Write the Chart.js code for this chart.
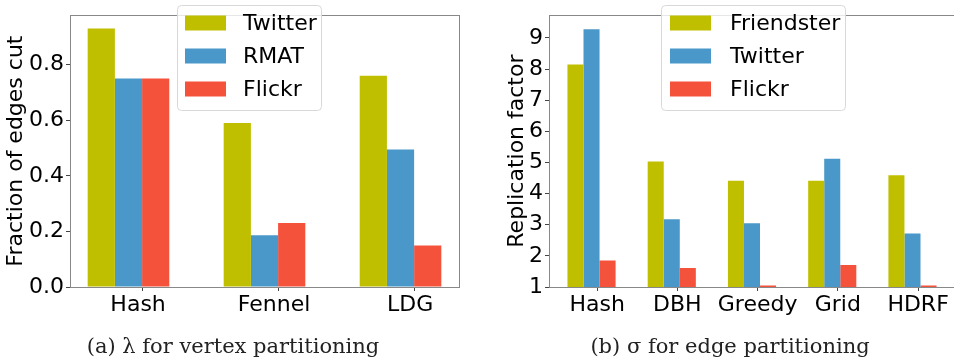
<!DOCTYPE html>
<html>
<head>
<meta charset="utf-8">
<script src="https://cdn.jsdelivr.net/npm/chart.js@4/dist/chart.umd.min.js"></script>
<style>
  body { margin: 0; width: 954px; height: 362px; overflow: hidden; position: relative; background: #fff; }
  .panel { position: absolute; top: 0; width: 480px; height: 362px; }
  .caption { position: absolute; top: 333px; font: 21px "DejaVu Serif", serif; color: #222; white-space: nowrap; line-height: 26px; transform: translateX(-50%); }
</style>
</head>
<body>
<div class="panel" style="left:0"><canvas id="vertex" width="480" height="362"></canvas></div>
<div class="panel" style="left:480px"><canvas id="edge" width="480" height="362"></canvas></div>
<div class="caption" style="left:233px">(a) λ for vertex partitioning</div>
<div class="caption" style="left:730px">(b) σ for edge partitioning</div>
<script>
// (a) fraction of edges cut, vertex partitioning
const vertexCategories = ["Hash", "Fennel", "LDG"];
const vertexTwitter = [0.93, 0.59, 0.76];
const vertexRmat = [0.75, 0.186, 0.495];
const vertexFlickr = [0.75, 0.23, 0.149];
const vertexTicks = [0.0, 0.2, 0.4, 0.6, 0.8];

// (b) replication factor, edge partitioning
const edgeCategories = ["Hash", "DBH", "Greedy", "Grid", "HDRF"];
const edgeFriendster = [8.15, 5.03, 4.41, 4.41, 4.59];
const edgeTwitter = [9.28, 3.18, 3.05, 5.12, 2.72];
const edgeFlickr = [1.85, 1.61, 1.05, 1.71, 1.05];
const edgeTicks = [1, 2, 3, 4, 5, 6, 7, 8, 9];

const OLIVE = "#bfbf00", BLUE = "#4a97c9", RED = "#f5523c";

Chart.defaults.font.family = "'DejaVu Sans', sans-serif";
Chart.defaults.color = "#000";

const toPoints = vals => vals.map((y, i) => ({ x: i, y }));

// axes frame like matplotlib spines
const framePlugin = {
  id: "frame",
  afterDatasetsDraw(chart) {
    const { ctx, chartArea: a } = chart;
    ctx.save();
    ctx.strokeStyle = "#888";
    ctx.lineWidth = 1;
    ctx.strokeRect(Math.round(a.left) + 0.5, Math.round(a.top) + 0.5,
      Math.round(a.right - a.left), Math.round(a.bottom - a.top));
    ctx.restore();
  }
};

// framed legend sitting inside the plot
const boxLegend = {
  id: "boxLegend",
  afterDraw(chart, _args, opts) {
    const { ctx } = chart;
    ctx.save();
    ctx.fillStyle = "rgba(255,255,255,0.8)";
    ctx.strokeStyle = "#d8d8d8";
    ctx.lineWidth = 1;
    ctx.beginPath();
    ctx.roundRect(opts.x + 0.5, opts.y + 0.5, opts.w, opts.h, 4);
    ctx.fill();
    ctx.stroke();
    ctx.font = "22px 'DejaVu Sans'";
    ctx.textBaseline = "middle";
    chart.data.datasets.forEach((ds, i) => {
      const cy = opts.y + 18 + i * 33;
      ctx.fillStyle = ds.backgroundColor;
      ctx.fillRect(opts.x + opts.swatchX, cy - 7.5, 41, 15);
      ctx.fillStyle = "#000";
      ctx.fillText(ds.label, opts.x + opts.textX, cy + 1);
    });
    ctx.restore();
  }
};

function makeChart(id, cfg) {
  return new Chart(document.getElementById(id), {
    type: "bar",
    data: {
      datasets: cfg.series.map(s => ({
        label: s.label,
        data: toPoints(s.data),
        backgroundColor: s.color,
        borderWidth: 0,
        categoryPercentage: 0.6,
        barPercentage: 1.0
      }))
    },
    options: {
      responsive: false,
      animation: false,
      layout: { padding: { top: cfg.top, right: cfg.right, left: 0, bottom: 0 } },
      plugins: {
        legend: { display: false },
        tooltip: { enabled: false },
        boxLegend: cfg.legend
      },
      scales: {
        x: {
          type: "linear",
          min: cfg.xMin,
          max: cfg.xMax,
          offset: false,
          grid: { drawOnChartArea: false, tickLength: 4, color: "#444", offset: false },
          border: { display: false },
          afterBuildTicks: s => { s.ticks = cfg.categories.map((_, i) => ({ value: i + cfg.tickShift })); },
          ticks: {
            font: { size: 22 },
            padding: 1,
            maxRotation: 0,
            autoSkip: false,
            labelOffset: cfg.labelOffset,
            callback: (_v, i) => cfg.categories[i]
          },
          afterFit: s => { s.height = 75; }
        },
        y: {
          min: cfg.yMin,
          max: cfg.yMax,
          grid: { drawOnChartArea: false, tickLength: 4, color: "#444" },
          border: { display: false },
          afterBuildTicks: s => { s.ticks = cfg.yTicks.map(v => ({ value: v })); },
          ticks: {
            font: { size: 22 },
            padding: 2,
            callback: cfg.yFormat
          },
          title: { display: true, text: cfg.yTitle, font: { size: 22 }, padding: { top: cfg.titlePad, bottom: 0 } },
          afterFit: s => { s.width = cfg.yWidth; }
        }
      }
    },
    plugins: [framePlugin, boxLegend]
  });
}

makeChart("vertex", {
  categories: vertexCategories,
  series: [
    { label: "Twitter", data: vertexTwitter, color: OLIVE },
    { label: "RMAT", data: vertexRmat, color: BLUE },
    { label: "Flickr", data: vertexFlickr, color: RED }
  ],
  xMin: -0.43, xMax: 2.43, tickShift: 0.1, labelOffset: -4,
  yMin: 0, yMax: 0.978, yTicks: vertexTicks, yFormat: v => v.toFixed(1),
  yTitle: "Fraction of edges cut", yWidth: 70, top: 3, right: 21, titlePad: 3,
  legend: { x: 177, y: 5, w: 144, h: 105, swatchX: 8, textX: 66 }
});

makeChart("edge", {
  categories: edgeCategories,
  series: [
    { label: "Friendster", data: edgeFriendster, color: OLIVE },
    { label: "Twitter", data: edgeTwitter, color: BLUE },
    { label: "Flickr", data: edgeFlickr, color: RED }
  ],
  xMin: -0.53, xMax: 4.53, tickShift: 0.07, labelOffset: 0,
  yMin: 1, yMax: 9.73, yTicks: edgeTicks, yFormat: v => String(v),
  yTitle: "Replication factor", yWidth: 69, top: 3, right: 5, titlePad: 24,
  legend: { x: 181, y: 5, w: 184, h: 105, swatchX: 9, textX: 69 }
});
</script>
</body>
</html>
